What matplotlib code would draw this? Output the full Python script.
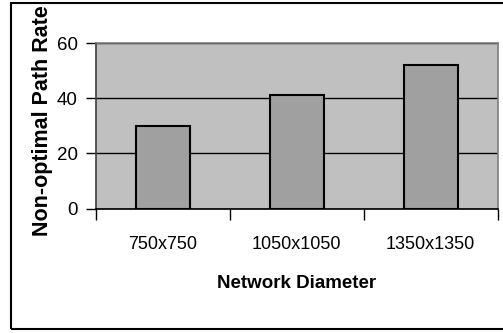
import matplotlib
matplotlib.use("Agg")
import numpy as np
from matplotlib import pyplot as plt
from matplotlib.patches import Rectangle

# Data
diameters = ["750x750", "1050x1050", "1350x1350"]
path_rate = [30, 41, 52]
y_ticks = [0, 20, 40, 60]

font = ["Liberation Sans", "DejaVu Sans"]

fig = plt.figure(figsize=(5.03, 3.33), dpi=100)
ax = fig.add_axes([96 / 503, 1 - 208.7 / 333, 401.7 / 503, 165.7 / 333])

x = np.arange(len(diameters))
ax.set_facecolor("#c0c0c0")
ax.bar(x, path_rate, width=0.4, color="#a0a0a0", edgecolor="black", linewidth=1.5, zorder=3)

# Horizontal gridlines in black
ax.set_ylim(0, 60)
ax.set_yticks(y_ticks)
ax.yaxis.grid(True, color="black", linewidth=1, zorder=1)
ax.set_axisbelow(True)

ax.set_xlim(-0.5, len(diameters) - 0.5)
# ticks between categories, labels under the bars
ax.set_xticks(np.arange(-0.5, len(diameters)), minor=False)
ax.set_xticklabels([])
ax.set_xticks(x, minor=True)
ax.set_xticklabels(diameters, minor=True, family=font, fontsize=13)
ax.tick_params(axis="x", which="major", direction="out", length=8, width=1, color="black")
ax.tick_params(axis="x", which="minor", length=0, pad=20)
ax.tick_params(axis="y", direction="out", length=7, width=1, color="black", pad=6)
for lab in ax.get_yticklabels():
    lab.set_family(font)
    lab.set_fontsize(13.5)

ax.spines["top"].set_color("#808080")
ax.spines["right"].set_color("#808080")
ax.spines["left"].set_color("#404040")
ax.spines["bottom"].set_color("black")
for s in ax.spines.values():
    s.set_linewidth(1.2)

fig.text(297 / 503, 1 - 284 / 333, "Network Diameter", ha="center", va="center",
         family=font, fontweight="bold", fontsize=13.5)
fig.text(43 / 503, 1 - 121 / 333, "Non-optimal Path Rate", ha="center", va="center",
         rotation=90, family=font, fontweight="bold", fontsize=15.5)

# outer chart frame
fig.patches.append(Rectangle((11 / 503, 1 - 329 / 333), 600 / 503, 326 / 333,
                             transform=fig.transFigure, fill=False,
                             edgecolor="black", linewidth=1.5))

fig.savefig("out.png", dpi=100)
